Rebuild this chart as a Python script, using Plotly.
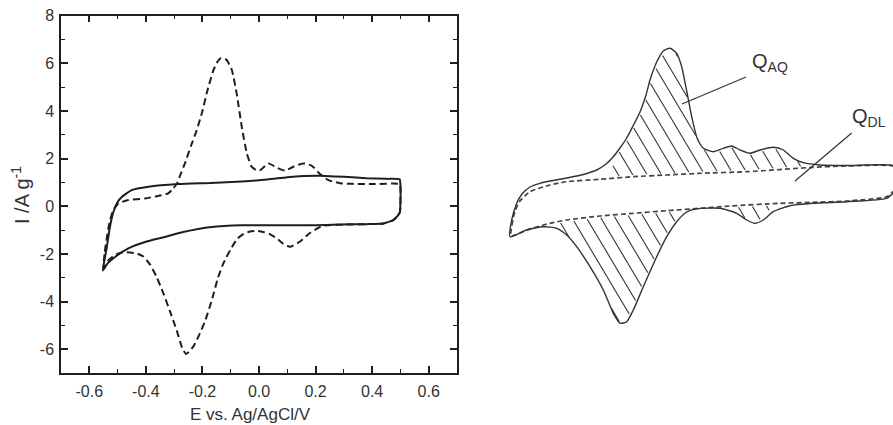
import numpy as np
import plotly.graph_objects as go

# ---------------- Left panel: measured cyclic voltammograms ----------------
solid_E = [-0.552, -0.546, -0.538, -0.527, -0.515, -0.500, -0.485, -0.450, -0.391, -0.285,
           -0.170, -0.061, 0.030, 0.100, 0.160, 0.220, 0.270, 0.330, 0.380, 0.450,
           0.497, 0.500, 0.500, 0.498, 0.490, 0.475, 0.440, 0.380, 0.322, 0.204,
           0.086, -0.061, -0.167, -0.268, -0.330, -0.403, -0.462, -0.509, -0.535, -0.552]
solid_I = [-2.70, -2.25, -1.71, -0.87, -0.25, 0.18, 0.39, 0.68, 0.82, 0.93,
           0.98, 1.04, 1.12, 1.22, 1.27, 1.28, 1.25, 1.22, 1.18, 1.15,
           1.13, 0.90, 0.20, -0.25, -0.40, -0.58, -0.72, -0.75, -0.76, -0.80,
           -0.80, -0.80, -0.87, -1.08, -1.28, -1.50, -1.77, -2.13, -2.40, -2.70]

dash_E = [-0.550, -0.545, -0.535, -0.527, -0.515, -0.497, -0.462, -0.403, -0.362, -0.321,
          -0.303, -0.290, -0.277, -0.262, -0.240, -0.220, -0.200, -0.185, -0.161, -0.145,
          -0.136, -0.125, -0.114, -0.096, -0.079, -0.061, -0.043, -0.026, -0.010, 0.005,
          0.033, 0.063, 0.092, 0.121, 0.157, 0.187, 0.216, 0.245, 0.287, 0.330,
          0.400, 0.498, 0.500, 0.500, 0.498, 0.490, 0.475, 0.440, 0.380, 0.300,
          0.240, 0.216, 0.180, 0.145, 0.110, 0.086, 0.063, 0.035, 0.015, -0.010,
          -0.032, -0.060, -0.079, -0.100, -0.126, -0.145, -0.167, -0.190, -0.209, -0.230,
          -0.248, -0.258, -0.270, -0.291, -0.315, -0.338, -0.362, -0.385, -0.410, -0.432,
          -0.456, -0.480, -0.510, -0.535, -0.550]
dash_I = [-2.60, -1.90, -1.10, -0.60, -0.16, 0.12, 0.26, 0.33, 0.42, 0.54,
          0.75, 0.96, 1.35, 1.80, 2.55, 3.20, 4.00, 4.74, 5.72, 6.10,
          6.21, 6.21, 6.14, 5.72, 4.74, 3.34, 2.22, 1.66, 1.52, 1.52,
          1.80, 1.62, 1.50, 1.66, 1.80, 1.70, 1.35, 1.10, 0.97, 0.94,
          0.93, 0.93, 0.80, 0.00, -0.25, -0.40, -0.58, -0.72, -0.75, -0.77,
          -0.80, -0.87, -1.12, -1.48, -1.70, -1.58, -1.35, -1.15, -1.08, -1.03,
          -1.06, -1.20, -1.40, -1.80, -2.40, -3.00, -3.95, -4.80, -5.34, -5.85,
          -6.12, -6.20, -6.00, -5.21, -4.40, -3.66, -2.97, -2.45, -2.10, -1.98,
          -1.94, -1.93, -2.05, -2.30, -2.60]

x_tick_vals = [-0.6, -0.4, -0.2, 0.0, 0.2, 0.4, 0.6]
x_tick_text = ["-0.6", "-0.4", "-0.2", "0.0", "0.2", "0.4", "0.6"]
x_minor_vals = [-0.5, -0.3, -0.1, 0.1, 0.3, 0.5]
y_tick_vals = [-6, -4, -2, 0, 2, 4, 6, 8]
y_tick_text = ["-6", "-4", "-2", "0", "2", "4", "6", "8"]
y_minor_vals = [-5, -3, -1, 1, 3, 5, 7]

# ---------------- Right panel: schematic (arbitrary units) ----------------
sch_solid_x = [30, 31.7, 36.7, 42, 50, 60, 73.3, 86.7, 103.3, 116.7,
               126, 133.3, 140, 146.7, 153, 160, 166, 170, 176.7, 183.3,
               190, 196.7, 201.7, 206.7, 211.7, 216.7, 220, 223.3, 233.3, 243.3,
               251.7, 260, 270, 280, 293.3, 303.3, 313.3, 323.3, 340, 366.7,
               413, 417, 418, 417, 413, 406.7, 366.7, 333.3, 310, 293.3,
               283.3, 275, 266.7, 256.7, 240, 216.7, 206.7, 196.7, 186.7, 176.7,
               163.3, 153.3, 146.7, 140, 133.3, 123.3, 110, 96.7, 86.7, 76.7,
               63.3, 46.7, 30]
sch_solid_y = [188.3, 205, 221.7, 231, 238, 241.7, 244.5, 247, 250.5, 255,
               261, 268.3, 277, 287, 299, 313, 330, 345, 363, 374,
               376.7, 371.7, 358.3, 334, 308.3, 288, 281, 276.7, 273.3, 276.7,
               279, 275, 271.7, 275, 277.7, 275, 266.7, 262.3, 260, 259.5,
               259.5, 255, 245, 235, 231.7, 226.7, 223.3, 221.7, 219.3, 213.3,
               205, 201.7, 205, 211.7, 216.7, 216.2, 213, 203.3, 188.3, 168.3,
               138.3, 115, 103.3, 101.7, 111.7, 135, 158.3, 178.3, 190, 196.7,
               198.3, 195, 188.3]
sch_dash_x = [31, 32, 35, 40, 50, 70, 86.7, 120, 153.3, 186.7,
              220, 266.7, 333.3, 366.7, 413, 417, 418, 417, 413, 406.7,
              366.7, 333.3, 300, 250, 220, 186.7, 153.3, 120, 86.7, 70,
              46.7, 31]
sch_dash_y = [189, 200, 214, 224, 233.3, 240, 243.3, 245.7, 248.3, 250,
              251.7, 253.3, 257.7, 259, 259, 255, 245, 235, 233.3, 228.3,
              224, 222.7, 221.7, 219, 216.7, 214.3, 211.7, 209, 205, 201.7,
              195, 189]

lead_aq_x = [202, 266]
lead_aq_y = [321, 348]
lead_dl_x = [315, 371.7]
lead_dl_y = [244, 292]
label_aq = (270, 363)
label_dl = (370, 308)

# hatch settings (slope, spacing, phase) and windows (x0, x1, y0, y1)
hatch_slope = 1.68
hatch_step = 14.4
hatch_phase = 229.7
hatch_windows = [(132, 325, 230, 400), (75, 290, 80, 230)]


def point_in_poly(x, y, px, py):
    px = np.asarray(px, float)
    py = np.asarray(py, float)
    inside = np.zeros(x.shape, dtype=bool)
    j = len(px) - 1
    for i in range(len(px)):
        xi, yi, xj, yj = px[i], py[i], px[j], py[j]
        if yi != yj:
            cond = ((yi > y) != (yj > y)) & (x < (xj - xi) * (y - yi) / (yj - yi) + xi)
            inside ^= cond
        j = i
    return inside


dt = 0.25
t = np.arange(80, 400, dt)
step_len = dt * np.sqrt(1 + 1 / hatch_slope ** 2)
hx, hy = [], []
for c in np.arange(hatch_phase - 20 * hatch_step, hatch_phase + 30 * hatch_step, hatch_step):
    lx = c - t / hatch_slope
    ly = t
    m = point_in_poly(lx, ly, sch_solid_x, sch_solid_y) & ~point_in_poly(lx, ly, sch_dash_x, sch_dash_y)
    win = np.zeros_like(m)
    for (x0, x1, y0, y1) in hatch_windows:
        win |= (lx >= x0) & (lx <= x1) & (ly >= y0) & (ly <= y1)
    m &= win
    edges = np.flatnonzero(np.diff(np.concatenate([[0], m.astype(int), [0]])))
    for s, e in zip(edges[::2], edges[1::2]):
        if (e - s) * step_len < 7:
            continue
        trim = int(2.0 / step_len)
        s2, e2 = s + trim, e - 1 - trim
        hx += [lx[s2], lx[e2], None]
        hy += [ly[s2], ly[e2], None]

W, H = 893, 425
INK = "#1e1e1e"
TXT = "#333333"
FONT = "Liberation Sans, Arial, sans-serif"

fig = go.Figure()
fig.add_trace(go.Scatter(x=solid_E, y=solid_I, mode="lines", xaxis="x", yaxis="y",
                         line=dict(color=INK, width=2, shape="spline", smoothing=0.5),
                         hoverinfo="skip"))
fig.add_trace(go.Scatter(x=dash_E, y=dash_I, mode="lines", xaxis="x", yaxis="y",
                         line=dict(color=INK, width=2, dash="7px,4px", shape="spline", smoothing=0.5),
                         hoverinfo="skip"))

fig.add_trace(go.Scatter(x=hx, y=hy, mode="lines", xaxis="x2", yaxis="y2",
                         line=dict(color="#333333", width=1.1), hoverinfo="skip"))
fig.add_trace(go.Scatter(x=sch_dash_x, y=sch_dash_y, mode="lines", xaxis="x2", yaxis="y2",
                         line=dict(color="#444444", width=1.7, dash="5px,3px", shape="spline", smoothing=0.6),
                         hoverinfo="skip"))
fig.add_trace(go.Scatter(x=sch_solid_x, y=sch_solid_y, mode="lines", xaxis="x2", yaxis="y2",
                         line=dict(color="#333333", width=1.4, shape="spline", smoothing=0.6),
                         hoverinfo="skip"))
for lxs, lys in [(lead_aq_x, lead_aq_y), (lead_dl_x, lead_dl_y)]:
    fig.add_trace(go.Scatter(x=lxs, y=lys, mode="lines", xaxis="x2", yaxis="y2",
                             line=dict(color="#333333", width=1.2), hoverinfo="skip"))

axis_common = dict(showline=True, linewidth=1.5, linecolor=INK, mirror="ticks",
                   ticks="inside", ticklen=7, tickwidth=1.5, tickcolor=INK,
                   showgrid=False, zeroline=False, automargin=False,
                   tickfont=dict(family=FONT, size=16, color=TXT))

fig.update_layout(
    width=W, height=H, margin=dict(l=0, r=0, t=0, b=0, pad=0),
    paper_bgcolor="white", plot_bgcolor="white", showlegend=False,
    xaxis=dict(domain=[61 / W, 457 / W], range=[-0.7, 0.7], anchor="y",
               tickmode="array", tickvals=x_tick_vals, ticktext=x_tick_text,
               minor=dict(tickvals=x_minor_vals, ticks="inside", ticklen=4,
                          tickwidth=1.2, tickcolor=INK, showgrid=False),
               ticklabelstandoff=3, **axis_common),
    yaxis=dict(domain=[52 / H, 409.3 / H], range=[-7, 8], anchor="x",
               tickmode="array", tickvals=y_tick_vals, ticktext=y_tick_text,
               minor=dict(tickvals=y_minor_vals, ticks="inside", ticklen=4,
                          tickwidth=1.2, tickcolor=INK, showgrid=False),
               ticklabelstandoff=2, **axis_common),
    xaxis2=dict(domain=[480 / W, 1], range=[0, 413], anchor="y2", visible=False,
                fixedrange=True, automargin=False),
    yaxis2=dict(domain=[0, 1], range=[0, 425], anchor="x2", visible=False,
                fixedrange=True, automargin=False),
    annotations=[
        dict(text="E vs. Ag/AgCl/V", xref="paper", yref="paper", x=250 / W, y=(H - 414) / H,
             xanchor="center", yanchor="middle", showarrow=False,
             font=dict(family=FONT, size=17, color=TXT)),
        dict(text="I /A g<sup>-1</sup>", xref="paper", yref="paper", x=20 / W, y=(H - 195) / H,
             xanchor="center", yanchor="middle", textangle=-90, showarrow=False,
             font=dict(family=FONT, size=20, color=TXT)),
        dict(text="Q<sub>AQ</sub>", xref="x2", yref="y2", x=label_aq[0], y=label_aq[1],
             xanchor="left", yanchor="middle", showarrow=False,
             font=dict(family=FONT, size=20, color=TXT)),
        dict(text="Q<sub>DL</sub>", xref="x2", yref="y2", x=label_dl[0], y=label_dl[1],
             xanchor="left", yanchor="middle", showarrow=False,
             font=dict(family=FONT, size=20, color=TXT)),
    ],
)

fig.write_html("out.html", config={"displayModeBar": False},
               post_script="document.body.style.margin='0';document.body.style.overflow='hidden';")
